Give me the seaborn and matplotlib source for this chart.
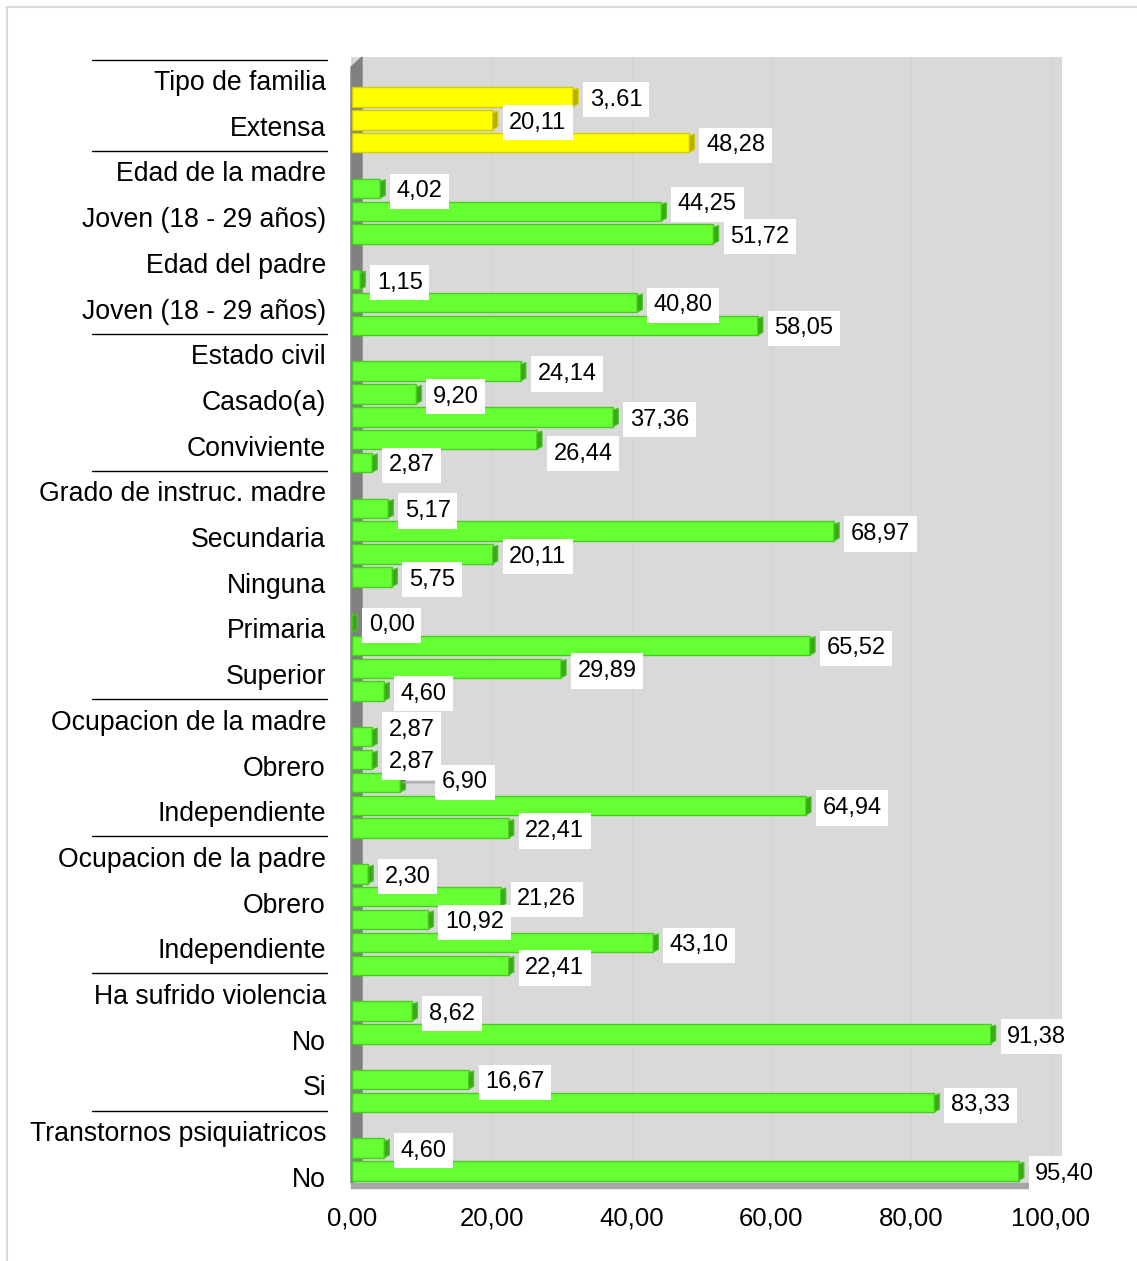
import numpy as np
import pandas as pd
import matplotlib.pyplot as plt
import matplotlib.transforms as mtransforms
from matplotlib.patches import Rectangle, Polygon
from matplotlib.lines import Line2D
import seaborn as sns

# valores (%) por bloque, de arriba hacia abajo
tipo_familia = [31.61, 20.11, 48.28]
edad_madre = [4.02, 44.25, 51.72]
edad_padre = [1.15, 40.80, 58.05]
estado_civil = [24.14, 9.20, 37.36, 26.44, 2.87]
instruc_madre_a = [5.17, 68.97, 20.11, 5.75]
instruc_madre_b = [0.00, 65.52, 29.89, 4.60]
ocup_madre = [2.87, 2.87, 6.90, 64.94, 22.41]
ocup_padre = [2.30, 21.26, 10.92, 43.10, 22.41]
violencia_no = [8.62, 91.38]
violencia_si = [16.67, 83.33]
transtornos = [4.60, 95.40]

etiquetas = [
    "Tipo de familia", "Extensa", "Edad de la madre", "Joven (18 - 29 años)",
    "Edad del padre", "Joven (18 - 29 años)", "Estado civil", "Casado(a)",
    "Conviviente", "Grado de instruc. madre", "Secundaria", "Ninguna",
    "Primaria", "Superior", "Ocupacion de la madre", "Obrero", "Independiente",
    "Ocupacion de la padre", "Obrero", "Independiente", "Ha sufrido violencia",
    "No", "Si", "Transtornos psiquiatricos", "No",
]
con_linea = [
    "Tipo de familia", "Edad de la madre", "Estado civil", "Grado de instruc. madre",
    "Ocupacion de la madre", "Ocupacion de la padre", "Ha sufrido violencia",
    "Transtornos psiquiatricos",
]
texto_especial = {0: "3,.61"}  # asi aparece en el original

grupos = [tipo_familia, edad_madre, edad_padre, estado_civil, instruc_madre_a,
          instruc_madre_b, ocup_madre, ocup_padre, violencia_no, violencia_si,
          transtornos]

# cada bloque va precedido de un hueco vacio
filas = []
orden = []
for g, vals in enumerate(grupos):
    orden.append(f"hueco{g}")
    for v in vals:
        nombre = f"b{len(filas)}"
        orden.append(nombre)
        filas.append({"slot": nombre, "valor": v,
                      "serie": "familia" if g == 0 else "resto"})
df = pd.DataFrame(filas)

sns.set_style("white")
plt.rcParams["font.family"] = ["Liberation Sans", "DejaVu Sans"]
plt.rcParams["text.color"] = "black"
plt.rcParams["xtick.color"] = "black"
plt.rcParams["ytick.color"] = "black"

W, H = 1137, 1261
fig = plt.figure(figsize=(W / 100, H / 100), dpi=100)
ax = fig.add_axes([351 / W, (H - 1183) / H, (1062 - 351) / W, (1183 - 57) / H])
ax.set_facecolor("#d9d9d9")

sns.barplot(data=df, x="valor", y="slot", hue="serie", order=orden,
            palette={"familia": "#ffff00", "resto": "#66ff33"},
            dodge=False, width=0.85, saturation=1, legend=False, orient="h",
            linewidth=1, ax=ax, zorder=3)

barras = sorted(ax.patches, key=lambda p: p.get_y() + p.get_height() / 2)
for p in barras:
    fc = p.get_facecolor()
    amarilla = fc[2] < 0.1 and fc[0] > 0.9
    p.set_edgecolor("#d6cc00" if amarilla else "#48cc22")
    # cara lateral del efecto 3D
    x_fin = p.get_x() + p.get_width()
    y0, h = p.get_y(), p.get_height()
    cara = Polygon([(x_fin, y0 + h), (x_fin + 0.75, y0 + h * 0.85),
                    (x_fin + 0.75, y0 + h * 0.05), (x_fin, y0 + h * 0.15)],
                   closed=True, fc="#b8ad00" if amarilla else "#3aa818",
                   ec="#d6cc00" if amarilla else "#48cc22", lw=0.8, zorder=4)
    ax.add_patch(cara)

# etiquetas de valor
ajustes = {4: (12, 5), 12: (12, -10), 22: (12, 5), 24: (30, 0)}
for i, (p, v) in enumerate(zip(barras, df["valor"])):
    txt = texto_especial.get(i, f"{v:.2f}".replace(".", ","))
    dx, dy = ajustes.get(i, (12, -2))
    flecha = None
    if i == 24:
        flecha = dict(arrowstyle="-", color="#a6a6a6", lw=1.3, shrinkA=0, shrinkB=2)
    ax.annotate(txt, xy=(p.get_x() + p.get_width(), p.get_y() + p.get_height() / 2),
                xytext=(dx, dy), textcoords="offset points", ha="left", va="center",
                fontsize=17, zorder=6,
                bbox=dict(boxstyle="square,pad=0.28", fc="white", ec="none"),
                arrowprops=flecha)

# pared izquierda y piso (efecto 3D)
pared = Polygon([(0, 0), (0.0155, 0.004), (0.0155, 1.0), (0, 0.991)],
                closed=True, transform=ax.transAxes, color="#808080", zorder=2,
                clip_on=False)
ax.add_patch(pared)
ax.add_patch(Rectangle((0, -0.0045), 0.985, 0.0045, transform=ax.transAxes,
                       color="#a6a6a6", zorder=2, clip_on=False))

ax.set_xticks(np.arange(0, 101, 20))
ax.set_xticklabels([f"{t:.2f}".replace(".", ",") for t in np.arange(0, 101, 20)],
                   fontsize=18.5)
ax.tick_params(axis="x", length=0, pad=17)
ax.grid(axis="x", color="#d2d2d2", lw=0.8)
ax.set_axisbelow(True)

pos_etq = np.arange(len(etiquetas)) * 2 + 0.26
ax.set_yticks(pos_etq)
ax.set_yticklabels(etiquetas, fontsize=19.2)
ax.tick_params(axis="y", length=0, pad=18)
ax.set_xlabel("")
ax.set_ylabel("")
for s in ax.spines.values():
    s.set_visible(False)

# lineas separadoras de bloques en la zona de etiquetas
trans = mtransforms.blended_transform_factory(ax.transAxes, ax.transData)
for nombre, y in zip(etiquetas, pos_etq):
    if nombre in con_linea:
        ax.plot([-0.364, -0.034], [y - 0.9, y - 0.9], color="black", lw=1,
                transform=trans, clip_on=False)

ax.set_xlim(-0.15, 101.6)
ax.set_ylim(len(orden) - 0.47, -0.75)

# borde del area del grafico
fig.add_artist(Line2D([7 / W, 1], [1 - 7 / H, 1 - 7 / H], color="#d9d9d9", lw=1.5,
                      transform=fig.transFigure))
fig.add_artist(Line2D([7 / W, 7 / W], [0, 1 - 7 / H], color="#d9d9d9", lw=1.5,
                      transform=fig.transFigure))

fig.savefig("out.png", dpi=100)
